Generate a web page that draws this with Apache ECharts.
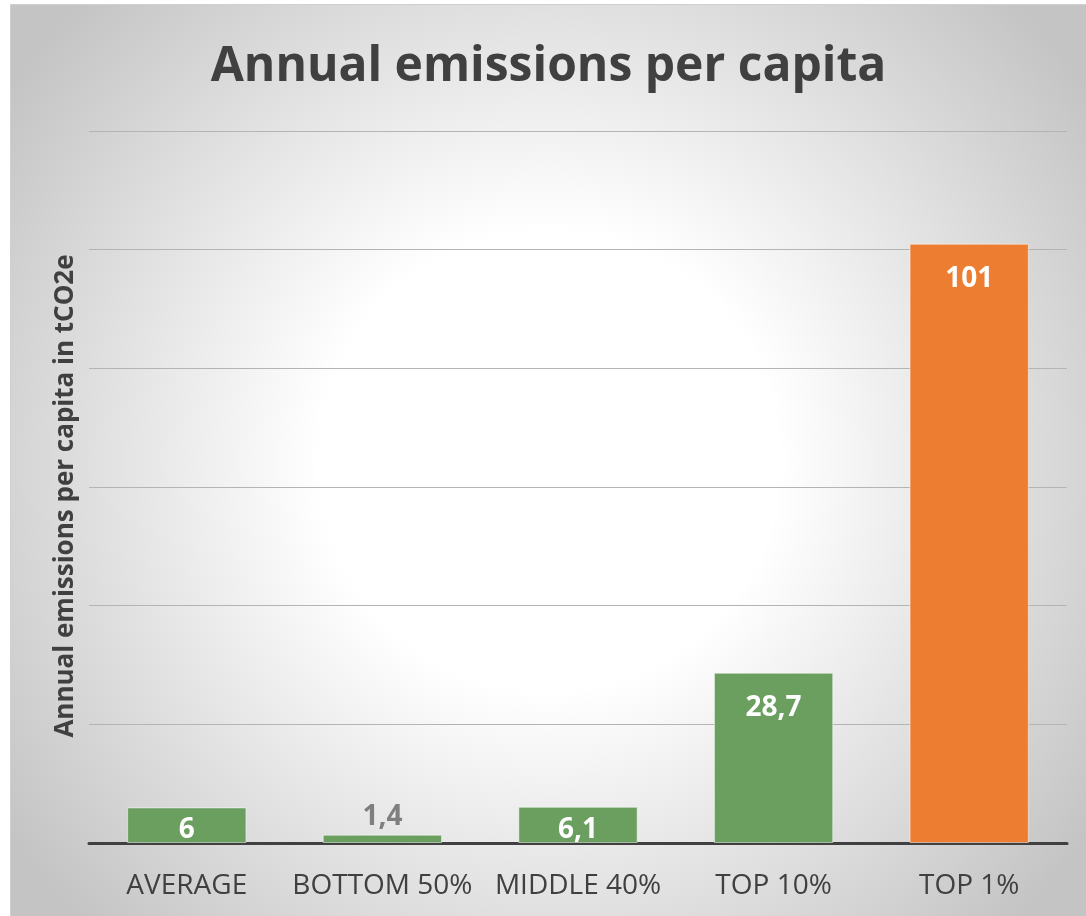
<!DOCTYPE html>
<html>
<head>
<meta charset="utf-8">
<script src="https://cdn.jsdelivr.net/npm/echarts@6/dist/echarts.min.js"></script>
<style>
html,body{margin:0;padding:0;background:#fff;}
#chart{position:absolute;left:10px;top:4px;width:1075px;height:911px;border:1px solid #d0d0d0;}
</style>
</head>
<body>
<div id="chart"></div>
<script>
const categories = ["AVERAGE", "BOTTOM 50%", "MIDDLE 40%", "TOP 10%", "TOP 1%"];
const values = [6, 1.4, 6.1, 28.7, 101];
const yTicks = {min: 0, max: 120, interval: 20};
const titleText = "Annual emissions per capita";
const yAxisName = "Annual emissions per capita in tCO2e";

const green = "#6a9f5f";
const orange = "#ed7d31";
const fmt = v => String(v).replace('.', ',');

const data = values.map((v, i) => {
  const item = {value: v, itemStyle: {color: i === 4 ? orange : green}};
  if (v < 3) {
    item.label = {position: 'top', color: '#7f7f7f', distance: 4};
  } else if (v < 10) {
    item.label = {position: 'insideTop', distance: 9};
  }
  return item;
});

const chart = echarts.init(document.getElementById('chart'));
chart.setOption({
  backgroundColor: {
    type: 'radial', x: 0.5, y: 0.5, r: 0.72,
    colorStops: [
      {offset: 0, color: '#ffffff'},
      {offset: 0.35, color: '#ffffff'},
      {offset: 1, color: '#c4c4c4'}
    ]
  },
  animation: false,
  title: {
    text: titleText, left: 'center', top: 33,
    textStyle: {fontFamily: 'Open Sans', fontWeight: 'bold', fontSize: 48, color: '#404040'}
  },
  grid: {left: 78, right: 19, top: 126, bottom: 73},
  xAxis: {
    type: 'category', data: categories,
    axisLine: {lineStyle: {color: '#404040', width: 3}},
    axisTick: {show: false},
    axisLabel: {interval: 0, fontFamily: 'Open Sans', fontSize: 28, color: '#404040', margin: 29}
  },
  yAxis: {
    type: 'value', min: yTicks.min, max: yTicks.max, interval: yTicks.interval,
    name: yAxisName, nameLocation: 'middle', nameRotate: 90, nameGap: 10,
    nameTextStyle: {fontFamily: 'Open Sans', fontWeight: 'bold', fontSize: 26, color: '#404040', padding: [0, 18, 0, 0]},
    axisLine: {show: false}, axisTick: {show: false}, axisLabel: {show: false},
    splitLine: {lineStyle: {color: '#b4b4b4', width: 1}}
  },
  series: [{
    type: 'bar', data: data, barWidth: '61%',
    itemStyle: {borderColor: 'rgba(255,255,255,0.5)', borderWidth: 1},
    label: {
      show: true, position: 'insideTop', distance: 21, formatter: p => fmt(p.value),
      fontFamily: 'Open Sans', fontWeight: 'bold', fontSize: 28, color: '#ffffff'
    }
  }]
});
</script>
</body>
</html>
